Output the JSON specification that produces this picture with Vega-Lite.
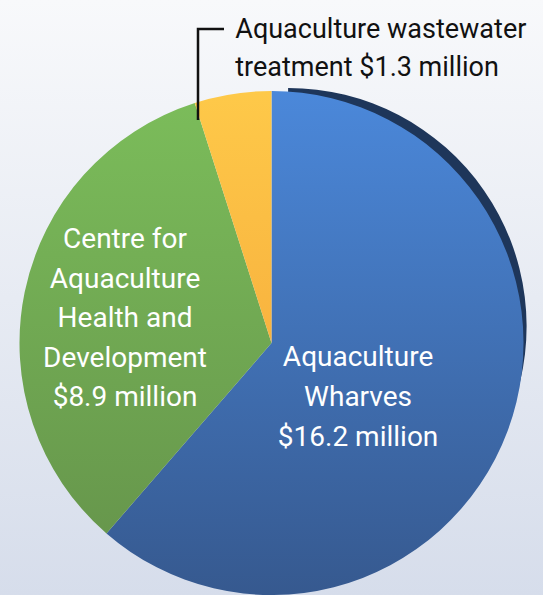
{
  "$schema": "https://vega.github.io/schema/vega-lite/v6.json",
  "width": 543,
  "height": 686,
  "padding": 0,
  "autosize": {"type": "none"},
  "background": "#e4e8f1",
  "view": {
    "stroke": null,
    "fill": {"gradient": "linear", "x1": 0, "y1": 0, "x2": 0, "y2": 1,
      "stops": [{"offset": 0, "color": "#f8f9fb"}, {"offset": 0.87, "color": "#d6ddeb"}, {"offset": 1, "color": "#d2daea"}]}
  },
  "datasets": {
    "pie": [
      {"name": "Aquaculture Wharves", "value": 16.2, "label": "Aquaculture\nWharves\n$16.2 million"},
      {"name": "Centre for Aquaculture Health and Development", "value": 8.9, "label": "Centre for\nAquaculture\nHealth and\nDevelopment\n$8.9 million"},
      {"name": "Aquaculture wastewater treatment", "value": 1.3, "label": "Aquaculture wastewater\ntreatment $1.3 million"}
    ],
    "leader": [
      {"k": 1, "lx": 224, "ly": 29},
      {"k": 2, "lx": 198, "ly": 29},
      {"k": 3, "lx": 198, "ly": 120}
    ]
  },
  "layer": [
    {
      "data": {"name": "pie"},
      "transform": [
        {"stack": "value", "groupby": [], "as": ["v0", "v1"]},
        {"filter": "datum.name === 'Aquaculture Wharves'"}
      ],
      "mark": {"type": "arc", "radius": 238.5, "xOffset": 16.6, "yOffset": -16.6, "fill": "#1e365a"},
      "encoding": {
        "theta": {"field": "v0", "type": "quantitative"},
        "theta2": {"field": "v1"}
      }
    },
    {
      "data": {"name": "pie"},
      "transform": [
        {"stack": "value", "groupby": [], "as": ["v0", "v1"]},
        {"filter": "datum.name === 'Aquaculture Wharves'"}
      ],
      "mark": {"type": "arc", "radius": 252,
        "fill": {"gradient": "linear", "x1": 0, "y1": 0, "x2": 0, "y2": 1,
          "stops": [{"offset": 0, "color": "#4b88da"}, {"offset": 1, "color": "#36598f"}]}},
      "encoding": {
        "theta": {"field": "v0", "type": "quantitative"},
        "theta2": {"field": "v1"}
      }
    },
    {
      "data": {"name": "pie"},
      "transform": [
        {"stack": "value", "groupby": [], "as": ["v0", "v1"]},
        {"filter": "datum.name === 'Centre for Aquaculture Health and Development'"}
      ],
      "mark": {"type": "arc", "radius": 252,
        "fill": {"gradient": "linear", "x1": 0, "y1": 0, "x2": 0, "y2": 1,
          "stops": [{"offset": 0, "color": "#7bbc5a"}, {"offset": 1, "color": "#67974c"}]}},
      "encoding": {
        "theta": {"field": "v0", "type": "quantitative"},
        "theta2": {"field": "v1"}
      }
    },
    {
      "data": {"name": "pie"},
      "transform": [
        {"stack": "value", "groupby": [], "as": ["v0", "v1"]},
        {"filter": "datum.name === 'Aquaculture wastewater treatment'"}
      ],
      "mark": {"type": "arc", "radius": 252,
        "fill": {"gradient": "linear", "x1": 0, "y1": 0, "x2": 0, "y2": 1,
          "stops": [{"offset": 0, "color": "#fec949"}, {"offset": 1, "color": "#f8b33f"}]}},
      "encoding": {
        "theta": {"field": "v0", "type": "quantitative"},
        "theta2": {"field": "v1"}
      }
    },
    {
      "data": {"name": "pie"},
      "transform": [{"stack": "value", "groupby": [], "as": ["v0", "v1"]}],
      "mark": {"type": "text", "radius": 102, "dx": -9, "dy": -20.6, "lineBreak": "\n", "lineHeight": 40,
        "font": "Roboto", "fontSize": 28, "fill": "#ffffff", "align": "center", "baseline": "middle"},
      "encoding": {
        "theta": {"field": "value", "type": "quantitative", "stack": true},
        "order": {"field": "v0", "type": "quantitative"},
        "text": {"condition": {"test": "datum.name === 'Aquaculture Wharves'", "field": "label"}, "value": ""}
      }
    },
    {
      "data": {"name": "pie"},
      "transform": [{"stack": "value", "groupby": [], "as": ["v0", "v1"]}],
      "mark": {"type": "text", "radius": 148, "dx": -1.5, "dy": -73, "lineBreak": "\n", "lineHeight": 39.5,
        "font": "Roboto", "fontSize": 28, "fill": "#ffffff", "align": "center", "baseline": "middle"},
      "encoding": {
        "theta": {"field": "value", "type": "quantitative", "stack": true},
        "order": {"field": "v0", "type": "quantitative"},
        "text": {"condition": {"test": "datum.name === 'Centre for Aquaculture Health and Development'", "field": "label"}, "value": ""}
      }
    },
    {
      "data": {"name": "pie"},
      "transform": [{"stack": "value", "groupby": [], "as": ["v0", "v1"]}],
      "mark": {"type": "text", "radius": 300, "dx": 10, "dy": -17, "lineBreak": "\n", "lineHeight": 38,
        "font": "Roboto", "fontSize": 27, "fill": "#111111", "align": "left", "baseline": "middle"},
      "encoding": {
        "theta": {"field": "value", "type": "quantitative", "stack": true},
        "order": {"field": "v0", "type": "quantitative"},
        "text": {"condition": {"test": "datum.name === 'Aquaculture wastewater treatment'", "field": "label"}, "value": ""}
      }
    },
    {
      "data": {"name": "leader"},
      "mark": {"type": "line", "stroke": "#111111", "strokeWidth": 2.5, "strokeCap": "butt"},
      "encoding": {
        "x": {"field": "lx", "type": "quantitative", "scale": {"domain": [0, 543]}, "axis": null},
        "y": {"field": "ly", "type": "quantitative", "scale": {"domain": [0, 686], "reverse": true}, "axis": null},
        "order": {"field": "k"}
      }
    }
  ]
}
